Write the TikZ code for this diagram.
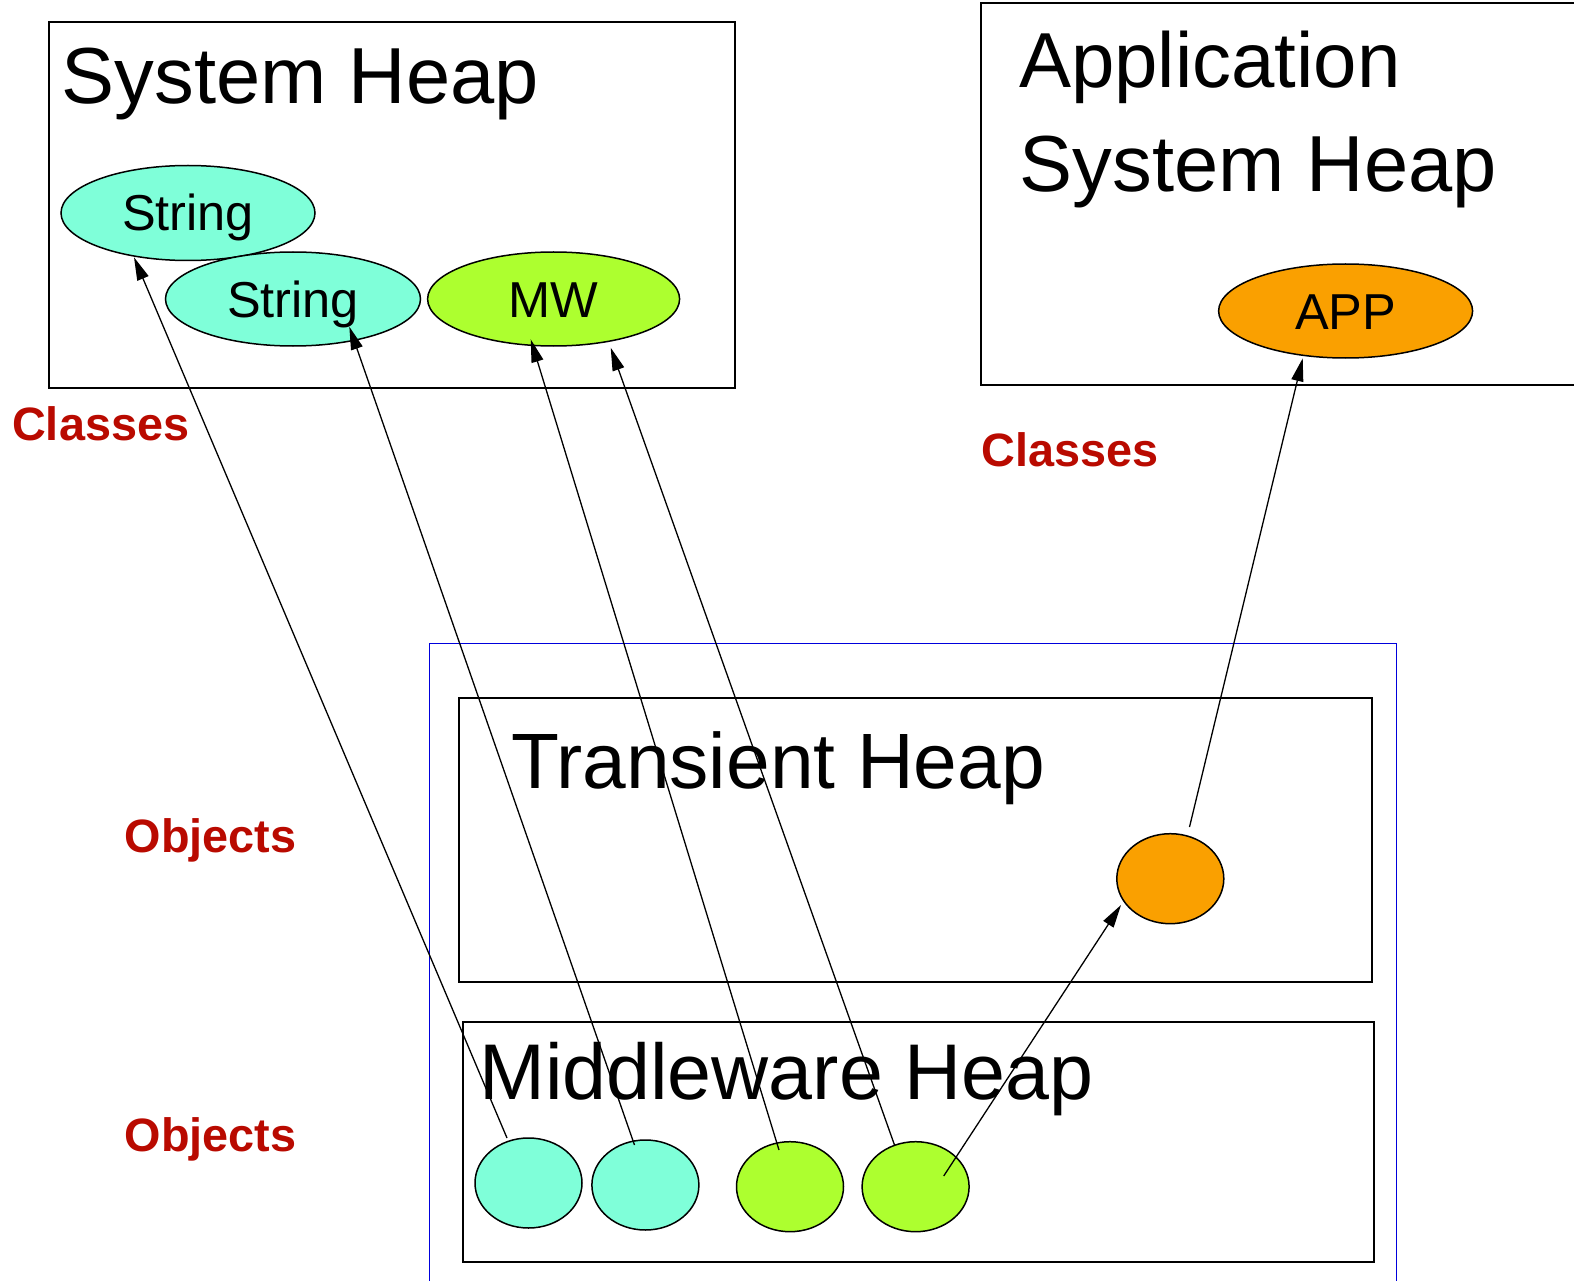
\documentclass[tikz,border=0pt]{standalone}
\usepackage{fontspec}
\setmainfont{Liberation Sans}
\usetikzlibrary{shapes.geometric,arrows.meta}
\definecolor{strfill}{HTML}{7FFFD9}
\definecolor{mwfill}{HTML}{ADFF2F}
\definecolor{appfill}{HTML}{FAA000}
\definecolor{lblred}{RGB}{185,10,0}
\definecolor{outerblue}{RGB}{0,0,220}
\begin{document}
\begin{tikzpicture}[x=1pt,y=-1pt,
  heapbox/.style={draw=black,line width=2pt},
  bluebox/.style={draw=outerblue,line width=1.4pt},
  title/.style={anchor=base west,inner sep=0pt,font=\fontsize{78}{94}\selectfont},
  wide title/.style={title,font=\fontsize{79.5}{95}\selectfont},
  lbl/.style={anchor=base west,inner sep=0pt,text=lblred,font=\bfseries\fontsize{46.8}{56}\selectfont},
  clsnode/.style={ellipse,draw=black,line width=1.5pt,inner sep=0pt,
    minimum width=254pt,minimum height=95pt,
    font=\fontsize{50.5}{60}\selectfont,text height=36pt,text depth=0pt},
  objnode/.style={ellipse,draw=black,line width=1.5pt,inner sep=0pt,
    minimum width=107pt,minimum height=90pt},
  ref/.style={draw=black,line width=1.3pt,-{Triangle[length=23pt,width=12pt]}}
]
\useasboundingbox (0,0) rectangle (1574,1281);
\clip (0,0) rectangle (1574,1281);
\fill[white] (0,0) rectangle (1574,1281);

% heap regions
\draw[heapbox] (49,22) rectangle (735,387.5);
\draw[heapbox] (981,3) rectangle (1600,385);
\draw[bluebox] (429.6,643.5) rectangle (1396.3,1300);
\draw[heapbox] (458.7,698) rectangle (1372,981.7);
\draw[heapbox] (462.8,1022) rectangle (1374,1261.7);

% heap titles
\node[wide title] (sysheap) at (61.5,104) {System Heap};
\node[title] (apptitleA) at (1019,88) {Application};
\node[wide title] (apptitleB) at (1019.5,192) {System Heap};
\node[title,font=\fontsize{78.5}{94}\selectfont] (transheap) at (511,788) {Transient Heap};
\node[title,font=\fontsize{79}{95}\selectfont] (mwheap) at (479,1099) {Middleware Heap};

% classes
\node[clsnode,fill=strfill] (s1) at (188,213) {String};
\node[clsnode,fill=strfill,minimum width=255pt,minimum height=94pt] (s2) at (293,299) {String};
\node[clsnode,fill=mwfill,minimum width=252pt,minimum height=94pt] (mw) at (553.6,299) {MW};
\node[clsnode,fill=appfill,minimum width=254pt,minimum height=94pt] (app) at (1345.6,311) {APP};

% objects
\node[objnode,fill=appfill] (o1) at (1170.3,878.7) {};
\node[objnode,fill=strfill] (c1) at (528.5,1183) {};
\node[objnode,fill=strfill] (c2) at (645.4,1185) {};
\node[objnode,fill=mwfill] (c3) at (790,1186.7) {};
\node[objnode,fill=mwfill] (c4) at (915.6,1186.7) {};

% side labels
\node[lbl] (clsleft) at (12,440) {Classes};
\node[lbl] (clsright) at (981,466) {Classes};
\node[lbl] (objtrans) at (124.5,852) {Objects};
\node[lbl] (objmw) at (124.5,1151.5) {Objects};

% object-to-class references
\draw[ref] ([shift={(-21.5,-45)}]c1.center) -- ([shift={(-54,44.3)}]s1.center);
\draw[ref] ([shift={(-10.9,-40)}]c2.center) -- ([shift={(56.3,27.7)}]s2.center);
\draw[ref] ([shift={(-11,-36.7)}]c3.center) -- ([shift={(-22.9,40.3)}]mw.center);
\draw[ref] ([shift={(-21.1,-41.7)}]c4.center) -- ([shift={(57.1,48.7)}]mw.center);
\draw[ref] ([shift={(28.1,-10.7)}]c4.center) -- ([shift={(-49.3,26.3)}]o1.center);
\draw[ref] ([shift={(19.2,-51.7)}]o1.center) -- ([shift={(-42.9,47.3)}]app.center);
\end{tikzpicture}
\end{document}
